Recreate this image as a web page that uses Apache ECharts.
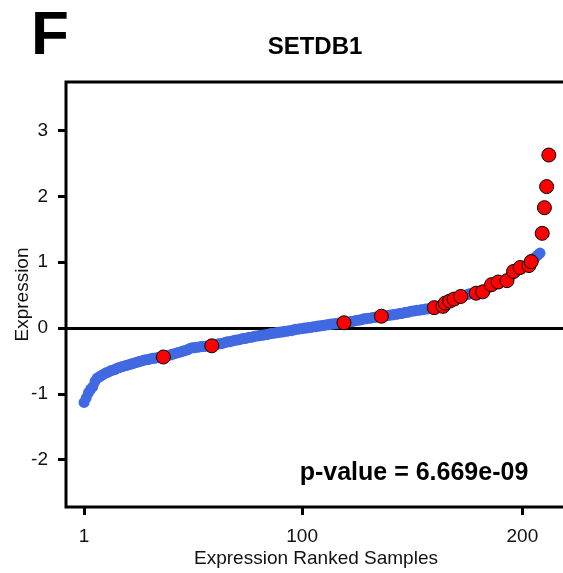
<!DOCTYPE html>
<html><head><meta charset="utf-8">
<script src="https://cdn.jsdelivr.net/npm/echarts@6/dist/echarts.min.js"></script>
<style>html,body{margin:0;padding:0;background:#fff}#c{width:563px;height:573px}</style>
</head><body><div id="c"></div>
<script>
// Expression values of ranked samples (rank = index + 1)
const blueValues = [
 -1.13,-1.06,-0.98,-0.93,-0.89,-0.81,-0.76,-0.74,-0.72,-0.70,
 -0.68,-0.67,-0.65,-0.64,-0.63,-0.61,-0.60,-0.59,-0.58,-0.57,
 -0.56,-0.55,-0.54,-0.53,-0.52,-0.51,-0.50,-0.49,-0.48,-0.48,
 -0.47,-0.46,-0.46,-0.45,-0.45,-0.44,-0.44,-0.43,-0.42,-0.41,
 -0.40,-0.39,-0.38,-0.37,-0.36,-0.35,-0.34,-0.33,-0.31,-0.30,
 -0.30,-0.29,-0.29,-0.28,-0.28,-0.28,-0.27,-0.27,-0.27,-0.26,
 -0.25,-0.24,-0.24,-0.23,-0.22,-0.21,-0.21,-0.20,-0.19,-0.18,
 -0.18,-0.17,-0.16,-0.16,-0.15,-0.14,-0.14,-0.13,-0.12,-0.12,
 -0.11,-0.11,-0.10,-0.10,-0.09,-0.08,-0.08,-0.07,-0.07,-0.06,
 -0.06,-0.05,-0.05,-0.04,-0.04,-0.03,-0.02,-0.02,-0.01,-0.01,
 0.00,0.00,0.01,0.01,0.02,0.02,0.03,0.03,0.04,0.04,
 0.05,0.05,0.06,0.06,0.07,0.07,0.08,0.08,0.08,0.09,
 0.09,0.10,0.10,0.11,0.12,0.12,0.13,0.14,0.14,0.15,
 0.15,0.16,0.16,0.17,0.17,0.18,0.18,0.19,0.19,0.20,
 0.20,0.21,0.21,0.22,0.22,0.23,0.24,0.24,0.25,0.26,
 0.26,0.27,0.27,0.28,0.28,0.29,0.29,0.30,0.30,0.31,
 0.31,0.32,0.33,0.33,0.38,0.39,0.41,0.42,0.44,0.45,
 0.47,0.48,0.49,0.50,0.51,0.52,0.52,0.53,0.53,0.54,
 0.54,0.55,0.57,0.60,0.63,0.66,0.67,0.69,0.70,0.71,
 0.71,0.72,0.72,0.76,0.81,0.86,0.88,0.90,0.92,0.93,
 0.94,0.94,0.95,1.01,1.04,1.08,1.11,1.14,1.44,1.83,2.15,2.63
];
// Highlighted samples (rank, expression)
const redRanks  = [37, 59, 119, 136, 160, 164, 165, 167, 169, 172, 179, 182, 186, 189, 193, 196, 199, 203, 204, 209, 210, 211, 212];
const redValues = [-0.44,-0.27,0.08,0.18,0.31,0.33,0.38,0.41,0.44,0.48,0.53,0.55,0.66,0.70,0.72,0.86,0.92,0.95,1.01,1.44,1.83,2.15,2.63];
const xTicks = [1, 100, 200];
const yTicks = [-2, -1, 0, 1, 2, 3];
const panelLetter = 'F';
const geneName = 'SETDB1';
const pValueText = 'p-value = 6.669e-09';

const FONT = 'Liberation Sans, Arial, sans-serif';
const chart = echarts.init(document.getElementById('c'));
const blueData = blueValues.map((v, i) => [i + 1, v]);
const redData = redRanks.map((r, i) => [r, redValues[i]]);

const xRange = {min: -7.2, max: 219.8};
chart.setOption({
  animation: false,
  backgroundColor: '#fff',
  grid: {left: 66, top: 82, width: 500, height: 425, containLabel: false, outerBoundsMode: 'none',
         show: true, borderColor: '#000', borderWidth: 3, backgroundColor: 'transparent'},
  xAxis: [{
    type: 'value', min: xRange.min, max: xRange.max,
    axisLine: {show: false, onZero: false},
    splitLine: {show: false},
    axisTick: {show: true, customValues: xTicks, length: 8, inside: false, lineStyle: {color: '#000', width: 3}},
    axisLabel: {customValues: xTicks, margin: 20, fontSize: 19, color: '#111', fontFamily: FONT},
    name: 'Expression Ranked Samples', nameLocation: 'middle', nameGap: 42, nameMoveOverlap: false,
    nameTextStyle: {fontSize: 19, color: '#111', fontFamily: FONT}
  }, {
    type: 'value', min: xRange.min, max: xRange.max, position: 'bottom',
    axisLine: {show: true, onZero: true, lineStyle: {color: '#000', width: 3}},
    axisTick: {show: false}, axisLabel: {show: false}, splitLine: {show: false}
  }],
  yAxis: {
    type: 'value', min: -2.72, max: 3.74,
    axisLine: {show: false, onZero: false},
    splitLine: {show: false},
    axisTick: {show: true, customValues: yTicks, length: 8, inside: false, lineStyle: {color: '#000', width: 3}},
    axisLabel: {customValues: yTicks, margin: 18, fontSize: 19, color: '#111', fontFamily: FONT},
    name: 'Expression', nameLocation: 'middle', nameGap: 34, nameRotate: 90, nameMoveOverlap: false,
    nameTextStyle: {fontSize: 19, color: '#111', fontFamily: FONT}
  },
  series: [{
    type: 'scatter', data: blueData, symbol: 'circle', symbolSize: 11,
    itemStyle: {color: '#4169E1', opacity: 1}, z: 3, silent: true
  }, {
    type: 'scatter', data: redData, symbol: 'circle', symbolSize: 14,
    itemStyle: {color: '#FF0000', borderColor: '#000', borderWidth: 1, opacity: 1}, z: 4, silent: true
  }],
  graphic: [
    {type: 'text', left: 31, top: 6, style: {text: panelLetter, font: 'bold 62px ' + FONT, fill: '#000'}},
    {type: 'text', x: 315, y: 47, style: {text: geneName, font: 'bold 24px ' + FONT, fill: '#000', align: 'center', verticalAlign: 'middle'}},
    {type: 'text', x: 414, y: 473, style: {text: pValueText, font: 'bold 25px ' + FONT, fill: '#000', align: 'center', verticalAlign: 'middle'}, z: 10}
  ]
});
</script></body></html>
